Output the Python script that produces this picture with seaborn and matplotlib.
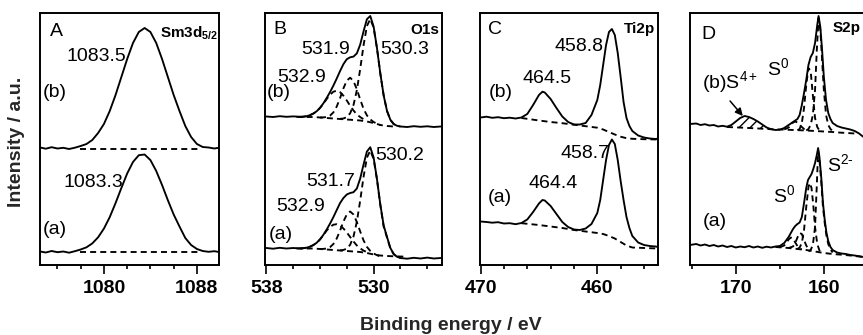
import matplotlib
matplotlib.use("Agg")
import matplotlib.pyplot as plt
import seaborn as sns

# ---------------- DATA ----------------
# Panel A  Sm3d5/2
E_A = [1074.5, 1075, 1075.5, 1076, 1076.5, 1077, 1077.5, 1078, 1078.5, 1079, 1079.5,
       1080, 1080.5, 1081, 1081.5, 1082, 1082.5, 1083, 1083.5, 1084, 1084.5, 1085,
       1085.5, 1086, 1086.5, 1087, 1087.5, 1088, 1088.5, 1089, 1089.5, 1089.9]
A_b = [117.5, 116.3, 117.8, 116.5, 117.2, 116.0, 117.3, 119.0, 121.0, 125.0, 132.0,
       141.0, 154.0, 170.0, 188.0, 206.0, 222.0, 233.0, 237.0, 233.0, 222.0, 206.0,
       188.0, 170.0, 154.0, 139.0, 128.0, 121.0, 118.0, 117.5, 116.5, 117.3]
A_a = [13.5, 12.5, 14.0, 12.8, 13.5, 12.3, 13.8, 15.5, 17.7, 21.6, 27.7,
       36.4, 47.9, 61.9, 77.0, 91.5, 103.0, 109.8, 110.5, 104.9, 94.0, 80.0,
       64.8, 50.5, 38.5, 27.0, 20.0, 16.0, 14.0, 13.2, 13.8, 13.0]
E_A_bg = [1077.9, 1088.1]
A_b_bg = [116.2, 116.2]
A_a_bg = [13.0, 13.0]

# Panel B  O1s
E_B = [538, 537.5, 537, 536.5, 536, 535.5, 535.25, 535, 534.75, 534.5, 534.25, 534,
       533.75, 533.5, 533.25, 533, 532.75, 532.5, 532.25, 532, 531.75, 531.5, 531.25,
       531, 530.75, 530.5, 530.25, 530, 529.75, 529.5, 529.25, 529, 528.75, 528.5,
       528.25, 528, 527.5, 527, 526.5, 526, 525.5, 525]
B_b = [148.5, 148.0, 148.8, 148.2, 148.6, 148.3, 148.4, 148.8, 149.8, 151.4, 153.7, 157.1,
       161.6, 167.0, 172.9, 179.4, 186.5, 194.0, 200.9, 205.8, 207.7, 208.4, 211.6,
       220.4, 233.7, 245.8, 249.0, 238.5, 217.0, 191.6, 169.5, 154.0, 145.2, 140.9,
       139.2, 138.5, 138.0, 138.8, 138.2, 138.7, 138.0, 138.5]
B_a = [17.0, 16.3, 17.2, 16.5, 17.0, 16.6, 16.9, 17.3, 18.3, 19.9, 22.2, 25.6,
       30.1, 35.5, 41.4, 47.9, 55.0, 62.0, 67.0, 70.5, 72.0, 72.8, 76.5,
       86.5, 100.5, 113.5, 117.8, 107.5, 86.0, 60.5, 39.5, 28.0, 17.0, 11.0,
       8.2, 7.0, 6.3, 7.2, 6.5, 7.4, 6.5, 7.0]
E_B3 = [535.5, 535.25, 535, 534.75, 534.5, 534.25, 534, 533.75, 533.5, 533.25, 533,
        532.75, 532.5, 532.25, 532, 531.75, 531.5, 531.25, 531, 530.75, 530.5]
B3_b = [148.0, 148.2, 148.8, 149.8, 151.4, 153.6, 157.0, 161.2, 166.0, 170.2, 173.3,
        174.3, 172.8, 169.3, 164.5, 159.2, 154.5, 150.6, 147.9, 145.8, 144.3]
B3_a = [16.5, 16.7, 17.3, 18.3, 19.9, 22.1, 25.5, 29.7, 34.5, 38.0, 40.3,
        40.8, 39.5, 36.5, 32.5, 28.0, 23.5, 19.5, 16.6, 14.4, 12.9]
E_B2 = [534, 533.75, 533.5, 533.25, 533, 532.75, 532.5, 532.25, 532, 531.75, 531.5,
        531.25, 531, 530.75, 530.5, 530.25, 530, 529.75, 529.5]
B2_b = [147.5, 147.6, 148.0, 149.4, 152.6, 158.5, 167.0, 176.7, 184.4, 187.3, 183.9,
        175.7, 165.5, 156.2, 149.6, 145.6, 143.0, 141.3, 140.0]
B2_a = [16.0, 16.1, 16.5, 17.9, 21.0, 26.5, 34.5, 43.5, 50.5, 53.5, 50.5,
        43.0, 33.5, 24.6, 18.1, 14.1, 11.5, 9.8, 8.5]
E_B1 = [532.5, 532.25, 532, 531.75, 531.5, 531.25, 531, 530.75, 530.5, 530.25, 530,
        529.75, 529.5, 529.25, 529, 528.75, 528.5, 528.25, 528]
B1_b = [146.2, 146.5, 147.9, 151.7, 160.0, 174.8, 196.0, 219.7, 238.9, 246.0, 237.4,
        216.7, 191.5, 169.5, 154.0, 145.2, 140.9, 139.2, 138.5]
B1_a = [14.7, 15.0, 16.4, 20.2, 28.5, 43.3, 64.5, 88.2, 107.4, 114.5, 106.0,
        85.5, 60.0, 38.3, 27.5, 16.5, 10.8, 8.0, 7.0]
E_Bbg = [535.75, 534.5, 534, 533, 532, 531, 530.5, 530, 529.5, 529, 528.5]
Bbg_b = [148.0, 148.0, 147.5, 146.5, 145.5, 144.5, 143.5, 142.0, 140.0, 139.0, 138.5]
E_Bbg_a = [535.75, 534.5, 534, 533, 532, 531, 530.5, 530, 529.5, 529, 528.5, 528, 527.5]
Bbg_a = [16.5, 16.5, 16.0, 15.0, 14.0, 13.0, 12.0, 10.5, 9.5, 9.0, 8.7, 8.5, 8.3]

# Panel C  Ti2p
E_C = [470, 469.5, 469, 468.5, 468, 467.5, 467, 466.5, 466, 465.5, 465, 464.7, 464.5,
       464, 463.5, 463, 462.5, 462, 461.5, 461, 460.5, 460, 459.75, 459.5, 459.25,
       459, 458.75, 458.5, 458.25, 458, 457.75, 457.5, 457.25, 457, 456.5, 456,
       455.5, 455, 454.8]
C_b = [147.5, 148.3, 147.2, 147.8, 146.8, 147.3, 146.5, 147.5, 151.0, 160.0, 170.0, 173.3,
       172.5, 166.0, 157.0, 148.5, 143.0, 140.5, 140.5, 142.0, 150.0, 165.0, 180.0, 200.0,
       220.0, 233.0, 236.0, 230.0, 212.0, 188.0, 163.0, 147.0, 139.0, 134.0, 129.5, 127.5,
       126.5, 126.0, 126.5]
C_a = [43.5, 43.0, 42.3, 42.8, 41.5, 41.8, 40.8, 42.0, 45.5, 53.0, 61.5, 65.0,
       64.5, 59.0, 51.0, 43.0, 38.0, 35.5, 35.0, 36.5, 41.0, 52.0, 65.0, 85.0,
       105.0, 120.0, 125.5, 121.0, 105.0, 84.0, 65.0, 48.0, 37.0, 29.0, 22.5, 20.0,
       19.0, 18.5, 18.0]
E_Cbg = [466.5, 465, 464, 463, 462, 461, 460, 459.5, 459, 458.5, 458, 457.5, 457, 456, 454.8]
Cbg_b = [147.0, 144.5, 143.0, 141.8, 140.3, 138.8, 137.3, 135.5, 133.0, 130.5, 128.3,
         126.8, 126.2, 125.8, 125.5]
Cbg_a = [41.8, 40.0, 38.5, 37.0, 35.0, 33.5, 32.0, 31.0, 29.0, 26.5, 23.0, 19.5,
         17.5, 17.0, 16.5]

# Panel D  S2p
E_Db = [175.2, 174.5, 174, 173.5, 173, 172.5, 172, 171.5, 171, 170.5, 170, 169.5, 169,
        168.5, 168, 167.5, 167, 166.5, 166, 165.5, 165, 164.5, 164, 163.5, 163, 162.75,
        162.5, 162.25, 162, 161.75, 161.5, 161.25, 161, 160.75, 160.6, 160.4, 160.2, 160,
        159.75, 159.5, 159.25, 159, 158.5, 158, 157.5, 157, 156.5, 156, 155.5, 155]
D_b = [141.0, 141.5, 140.0, 140.8, 139.5, 140.0, 138.5, 139.2, 138.3, 140.0, 143.5, 147.0,
       149.0, 148.0, 146.0, 143.5, 140.5, 137.5, 135.8, 135.0, 135.3, 137.0, 140.0, 143.0,
       146.0, 150.0, 160.0, 172.0, 185.0, 200.0, 208.0, 212.0, 222.0, 240.0, 249.0, 238.0,
       215.0, 188.0, 165.0, 152.0, 146.0, 142.0, 139.0, 137.5, 136.5, 135.5, 134.0, 131.5,
       128.0, 126.5]
E_Dbg_b = [171.0, 169, 167, 166, 164, 162, 160, 159, 158, 157, 156.5]
Dbg_b = [138.0, 137.2, 136.3, 135.8, 135.2, 134.5, 133.5, 133.0, 132.3, 131.8, 131.5]
E_DS4 = [170.5, 170, 169.5, 169, 168.5, 168, 167.5, 167, 166.5, 166]
DS4_top = [140.0, 143.5, 147.0, 149.0, 148.0, 146.0, 143.5, 140.5, 137.5, 135.8]
DS4_bot = [137.9, 137.7, 137.5, 137.2, 137.0, 136.7, 136.5, 136.3, 136.0, 135.8]
E_Db32 = [162, 161.75, 161.5, 161.25, 161, 160.8, 160.6, 160.4, 160.2, 160, 159.75,
          159.5, 159.25, 159]
Db32 = [134.5, 136.0, 140.0, 150.0, 175.0, 215.0, 247.0, 235.0, 205.0, 175.0, 150.0,
        140.0, 136.0, 134.0]
E_Db12 = [163, 162.75, 162.5, 162.25, 162, 161.75, 161.5, 161.25, 161, 160.75, 160.5]
Db12 = [134.8, 136.0, 142.0, 157.0, 180.0, 197.0, 194.0, 170.0, 147.0, 138.0, 134.5]
E_DbS0 = [164.5, 164, 163.75, 163.5, 163.25, 163, 162.75, 162.5, 162.25, 162]
DbS0 = [135.5, 137.5, 140.0, 142.5, 143.5, 142.5, 140.5, 138.0, 136.0, 135.0]

E_Da = [175.2, 174.5, 174, 173.5, 173, 172.5, 172, 171.5, 171, 170.5, 170, 169.5, 169,
        168.5, 168, 167.5, 167, 166.5, 166, 165.5, 165, 164.5, 164, 163.75, 163.5, 163.25,
        163, 162.75, 162.5, 162.25, 162, 161.8, 161.6, 161.4, 161.2, 161, 160.8, 160.65,
        160.5, 160.3, 160.1, 159.9, 159.7, 159.5, 159.25, 159, 158.5, 158, 157.5, 157,
        156.5, 156, 155.5, 155]
D_a = [20.0, 21.0, 19.5, 20.5, 19.0, 20.0, 18.5, 19.5, 18.0, 19.0, 17.5, 18.5, 17.8,
       19.0, 17.5, 18.5, 17.2, 18.3, 17.5, 18.5, 19.0, 22.0, 28.0, 32.0, 36.0, 39.0,
       41.0, 42.5, 48.0, 62.0, 77.0, 85.0, 88.0, 91.0, 96.0, 102.0, 110.0, 117.0,
       108.0, 88.0, 62.0, 45.0, 32.0, 24.0, 18.0, 15.0, 12.5, 11.5, 11.0, 10.0,
       9.5, 8.8, 8.0, 7.5]
E_Dbg_a = [165.5, 164, 163, 162, 161, 160, 159, 158, 157, 156, 155]
Dbg_a = [18.0, 17.0, 16.0, 15.0, 13.5, 12.0, 11.0, 10.3, 9.5, 8.5, 7.3]
E_Da32 = [161.75, 161.5, 161.25, 161, 160.8, 160.65, 160.5, 160.3, 160.1, 159.9, 159.7,
          159.5, 159.25, 159]
Da32 = [13.7, 15.0, 20.0, 38.0, 80.0, 114.0, 105.0, 84.0, 58.0, 42.0, 29.0, 21.0, 15.5, 12.5]
E_Da12 = [163, 162.75, 162.5, 162.25, 162, 161.75, 161.6, 161.4, 161.2, 161, 160.75,
          160.5, 160.25]
Da12 = [16.0, 17.5, 22.0, 35.0, 58.0, 78.0, 82.0, 77.0, 60.0, 38.0, 21.0, 14.5, 12.5]
E_DaS0a = [164, 163.5, 163.25, 163, 162.75, 162.5, 162.25, 162, 161.75, 161.5]
DaS0a = [17.0, 18.5, 22.0, 27.5, 32.0, 31.0, 25.0, 19.5, 16.0, 14.5]
E_DaS0b = [165, 164.5, 164.25, 164, 163.75, 163.5, 163.25, 163, 162.75, 162.5]
DaS0b = [17.8, 19.5, 22.5, 25.5, 27.5, 26.5, 22.5, 19.0, 16.5, 15.5]

# axis ticks
A_major, A_minor, A_labels = [1080, 1088], [1076, 1078, 1082, 1084, 1086], ["1080", "1088"]
B_major, B_minor, B_labels = [538, 530], [536, 534, 532, 528, 526], ["538", "530"]
C_major, C_minor, C_labels = [470, 460], [468, 466, 464, 462, 458, 456], ["470", "460"]
D_major, D_minor, D_labels = [170, 160], [175, 165], ["170", "160"]

# ---------------- STYLE ----------------
sns.set_theme(style="white")
plt.rcParams["font.family"] = ["Liberation Sans", "DejaVu Sans"]
plt.rcParams["mathtext.fontset"] = "custom"
plt.rcParams["mathtext.rm"] = "Liberation Sans"
plt.rcParams["mathtext.it"] = "Liberation Sans:italic"
plt.rcParams["mathtext.bf"] = "Liberation Sans:bold"
plt.rcParams["hatch.linewidth"] = 1.0
plt.rcParams["hatch.color"] = "black"

W, H = 863, 335
fig = plt.figure(figsize=(W / 100, H / 100), dpi=100)
fig.patch.set_facecolor("white")

LW = 1.35
DASH = (0, (3.2, 2.2))


def make_ax(lpx, rpx, xlim, major, minor, labels, top=13, bottom=265):
    ax = fig.add_axes([lpx / W, 1 - bottom / H, (rpx - lpx) / W, (bottom - top) / H])
    ax.set_facecolor("white")
    ax.set_xlim(*xlim)
    ax.set_ylim(0, 252)
    ax.set_yticks([])
    ax.set_xticks(major)
    ax.set_xticklabels(labels, fontsize=14, fontweight="bold")
    ax.set_xticks(minor, minor=True)
    ax.tick_params(axis="x", which="major", direction="out", length=6.3, width=1.2,
                   pad=4.5, bottom=True, color="black", labelcolor="black")
    ax.tick_params(axis="x", which="minor", direction="out", length=3.2, width=1.2,
                   bottom=True, color="black")
    for sp in ax.spines.values():
        sp.set_visible(True)
        sp.set_linewidth(1.4)
        sp.set_color("black")
    return ax


def solid(ax, x, y):
    sns.lineplot(x=x, y=y, ax=ax, color="black", linewidth=LW, sort=False, estimator=None)


def dashed(ax, x, y):
    sns.lineplot(x=x, y=y, ax=ax, color="black", linewidth=LW, sort=False, estimator=None,
                 linestyle=DASH)


def label(ax, fx, fy, s, size=14, weight="normal", ha="center"):
    ax.text(fx, fy, s, transform=ax.transAxes, fontsize=size, fontweight=weight,
            ha=ha, va="center", color="black", clip_on=False)


# ---------------- Panel A ----------------
axA = make_ax(40, 219, (1074.5, 1089.9), A_major, A_minor, A_labels)
solid(axA, E_A, A_b)
solid(axA, E_A, A_a)
dashed(axA, E_A_bg, A_b_bg)
dashed(axA, E_A_bg, A_a_bg)
label(axA, 0.056, 0.925, "A", ha="left")
label(axA, 0.995, 0.921, r"$\mathbf{Sm3d}_{\mathbf{5/2}}$", size=11, ha="right")
label(axA, 0.313, 0.829, "1083.5")
label(axA, 0.084, 0.683, "(b)")
label(axA, 0.296, 0.329, "1083.3")
label(axA, 0.084, 0.139, "(a)")

# ---------------- Panel B ----------------
axB = make_ax(265, 442, (538.1, 524.9), B_major, B_minor, B_labels)
solid(axB, E_B, B_b)
solid(axB, E_B, B_a)
for xs, ys in [(E_Bbg, Bbg_b), (E_B3, B3_b), (E_B2, B2_b), (E_B1, B1_b),
               (E_Bbg_a, Bbg_a), (E_B3, B3_a), (E_B2, B2_a), (E_B1, B1_a)]:
    dashed(axB, xs, ys)
label(axB, 0.085, 0.933, "B", ha="center")
label(axB, 0.985, 0.933, "O1s", size=11, weight="bold", ha="right")
label(axB, 0.345, 0.855, "531.9")
label(axB, 0.79, 0.855, "530.3")
label(axB, 0.205, 0.745, "532.9")
label(axB, 0.079, 0.683, "(b)")
label(axB, 0.76, 0.433, "530.2")
label(axB, 0.37, 0.333, "531.7")
label(axB, 0.2, 0.234, "532.9")
label(axB, 0.09, 0.123, "(a)")

# ---------------- Panel C ----------------
axC = make_ax(480, 658, (470.05, 454.8), C_major, C_minor, C_labels)
solid(axC, E_C, C_b)
solid(axC, E_C, C_a)
dashed(axC, E_Cbg, Cbg_b)
dashed(axC, E_Cbg, Cbg_a)
label(axC, 0.084, 0.935, "C")
label(axC, 0.985, 0.937, "Ti2p", size=11, weight="bold", ha="right")
label(axC, 0.556, 0.869, "458.8")
label(axC, 0.376, 0.742, "464.5")
label(axC, 0.118, 0.683, "(b)")
label(axC, 0.59, 0.444, "458.7")
label(axC, 0.41, 0.325, "464.4")
label(axC, 0.112, 0.266, "(a)")

# ---------------- Panel D ----------------
axD = make_ax(690, 867, (175.2, 155.1), D_major, D_minor, D_labels)
axD.fill_between(E_DS4, DS4_bot, DS4_top, facecolor="none", edgecolor="black",
                 hatch="///", linewidth=0)
solid(axD, E_Db, D_b)
solid(axD, E_Da, D_a)
for xs, ys in [(E_Dbg_b, Dbg_b), (E_Db32, Db32), (E_Db12, Db12), (E_DbS0, DbS0),
               (E_Dbg_a, Dbg_a), (E_Da32, Da32), (E_Da12, Da12), (E_DaS0a, DaS0a),
               (E_DaS0b, DaS0b)]:
    dashed(axD, xs, ys)
axD.annotate("", xy=(169.2, 149.0), xytext=(170.65, 164.0),
             arrowprops=dict(arrowstyle="-|>", color="black", lw=1.1, mutation_scale=11,
                             shrinkA=0, shrinkB=0))
label(axD, 0.102, 0.915, "D")
label(axD, 0.808, 0.94, "S2p", size=11, weight="bold", ha="left")
label(axD, 0.497, 0.782, r"S$^{0}$")
label(axD, 0.068, 0.726, r"(b)S$^{4+}$", ha="left")
label(axD, 0.773, 0.401, "S$^{2\u2010}$", ha="left")
label(axD, 0.531, 0.278, r"S$^{0}$")
label(axD, 0.141, 0.171, "(a)")

# ---------------- axis titles ----------------
fig.text(17 / W, 1 - 142 / H, "Intensity / a.u.", rotation=90, ha="center", va="center",
         fontsize=14, fontweight="bold")
fig.text(451 / W, 1 - 325 / H, "Binding energy / eV", ha="center", va="center",
         fontsize=14, fontweight="bold")

fig.savefig("out.png", dpi=100, facecolor="white")
